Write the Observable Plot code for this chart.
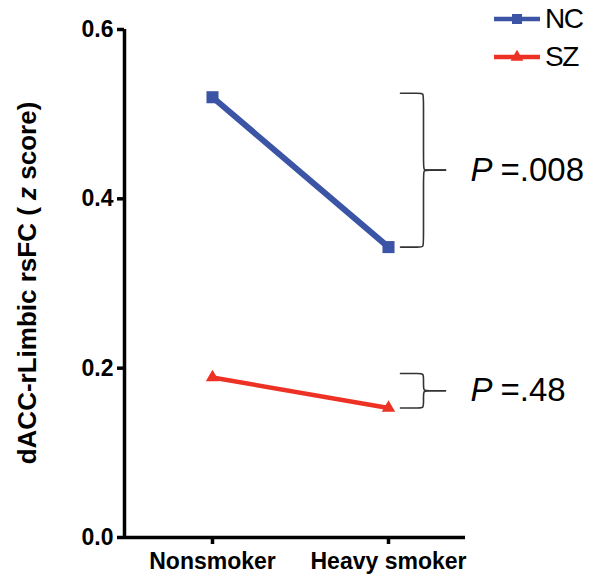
<!DOCTYPE html>
<html><head><meta charset="utf-8">
<script src="https://cdn.jsdelivr.net/npm/d3@7"></script>
<script src="https://cdn.jsdelivr.net/npm/@observablehq/plot@0.6"></script>
<style>
body{margin:0;background:#fff;font-family:"Liberation Sans",Arial,sans-serif;}
#wrap{position:relative;width:600px;height:575px;}
#legend{position:absolute;left:490px;top:0px;font-size:28px;color:#000;}
.lg{display:flex;align-items:center;height:38px;}
.lg span{margin-left:3px;letter-spacing:-1.5px;}
</style></head><body><div id="wrap"><div id="legend"></div></div>
<script>
const groups = ["Nonsmoker", "Heavy smoker"];
const seriesNames = ["NC", "SZ"];
const ncValues = [0.52, 0.343];
const szValues = [0.189, 0.153];
const pLabels = ["=.008", "=.48"];
const yTicks = [0, 0.2, 0.4, 0.6];
const colors = {NC: "#3b54a5", SZ: "#ed3125"};
const symbols = {NC: "square", SZ: "triangle"};
const widths = {NC: 6, SZ: 4.5};

const seriesValues = {NC: ncValues, SZ: szValues};
const data = seriesNames.flatMap(s => seriesValues[s].map((v, i) => ({series: s, i, group: groups[i], value: v})));

// layout
const W = 600, H = 575, mL = 124, mR = 135, mT = 29, mB = 38;
const xDomain = [-0.5, 1.4375];
const yDomain = [0, 0.6];
const xpu = (W - mL - mR) / (xDomain[1] - xDomain[0]);
const ypu = (H - mT - mB) / (yDomain[1] - yDomain[0]);
const dx = px => px / xpu, dy = px => px / ypu;

// braces built from series values
const braces = [];
const pText = [];
seriesNames.forEach((s, k) => {
  const vals = seriesValues[s];
  const top = d3.max(vals) + dy(4), bot = d3.min(vals);
  const mid = (top + bot) / 2;
  const x0 = 1 + dx(12), x1 = 1 + dx(35), x2 = 1 + dx(57);
  const r = 6;
  const half = (yEdge, sign, id) => [
    [x0, yEdge], [x1 - dx(4), yEdge], [x1, yEdge], [x1, yEdge - sign * dy(r)],
    [x1, mid + sign * dy(r)], [x1, mid], [x1 + dx(4), mid], [x2, mid]
  ].map(([x, y]) => ({x, y, id}));
  braces.push(...half(top, 1, s + "t"), ...half(bot, -1, s + "b"));
  pText.push({x: x2, y: mid, t: pLabels[k]});
});

const plot = Plot.plot({
  width: W, height: H,
  marginLeft: mL, marginRight: mR, marginTop: mT, marginBottom: mB,
  style: {fontFamily: '"Liberation Sans", Arial, sans-serif', color: "#000", background: "#fff", overflow: "visible"},
  x: {type: "linear", domain: xDomain},
  y: {domain: yDomain},
  marks: [
    Plot.axisY(yTicks, {tickSize: 7, tickPadding: 4, tickFormat: d3.format(".1f"), fontSize: 23, fontWeight: "bold", strokeWidth: 3.5, label: null}),
    Plot.axisX([0, 1], {tickSize: 7, tickPadding: 8, tickFormat: i => groups[i], fontSize: 23, fontWeight: "bold", strokeWidth: 3.5, label: null}),
    Plot.ruleX([xDomain[0]], {stroke: "#000", strokeWidth: 3.5}),
    Plot.ruleY([0], {stroke: "#000", strokeWidth: 3.5}),
    ...seriesNames.map(s => Plot.line(data.filter(d => d.series === s), {x: "i", y: "value", stroke: colors[s], strokeWidth: widths[s]})),
    ...seriesNames.map(s => Plot.dot(data.filter(d => d.series === s), {x: "i", y: "value", symbol: symbols[s], fill: colors[s], stroke: "none", r: s === "NC" ? 6.8 : 5})),
    Plot.line(braces, {x: "x", y: "y", z: "id", curve: "basis", stroke: "#333", strokeWidth: 1.6}),
    Plot.text(pText, {x: "x", y: "y", text: () => "P", dx: 25, textAnchor: "start", fontSize: 33, fontStyle: "italic"}),
    Plot.text(pText, {x: "x", y: "y", text: "t", dx: 55, textAnchor: "start", fontSize: 33})
  ]
});

// y-axis title with italic z
const svg = d3.select(plot);
const yl = svg.append("text")
  .attr("transform", `translate(36,${(mT + H - mB) / 2}) rotate(-90)`)
  .attr("text-anchor", "middle")
  .attr("font-size", 26).attr("font-weight", "bold").attr("fill", "#000");
yl.append("tspan").text("dACC-rLimbic rsFC ( ");
yl.append("tspan").attr("font-style", "italic").text("z");
yl.append("tspan").text(" score)");

document.getElementById("wrap").appendChild(plot);

// legend
const lg = d3.select("#legend");
seriesNames.forEach(s => {
  const row = lg.append("div").attr("class", "lg");
  const sv = row.append("svg").attr("width", 52).attr("height", 20);
  sv.append("line").attr("x1", 4).attr("x2", 50).attr("y1", 10).attr("y2", 10).attr("stroke", colors[s]).attr("stroke-width", 4.5);
  sv.append("path").attr("transform", "translate(27,10)").attr("fill", colors[s])
    .attr("d", d3.symbol(s === "NC" ? d3.symbolSquare : d3.symbolTriangle, s === "NC" ? 100 : 70)());
  row.append("span").text(s);
});
</script>
</body></html>
